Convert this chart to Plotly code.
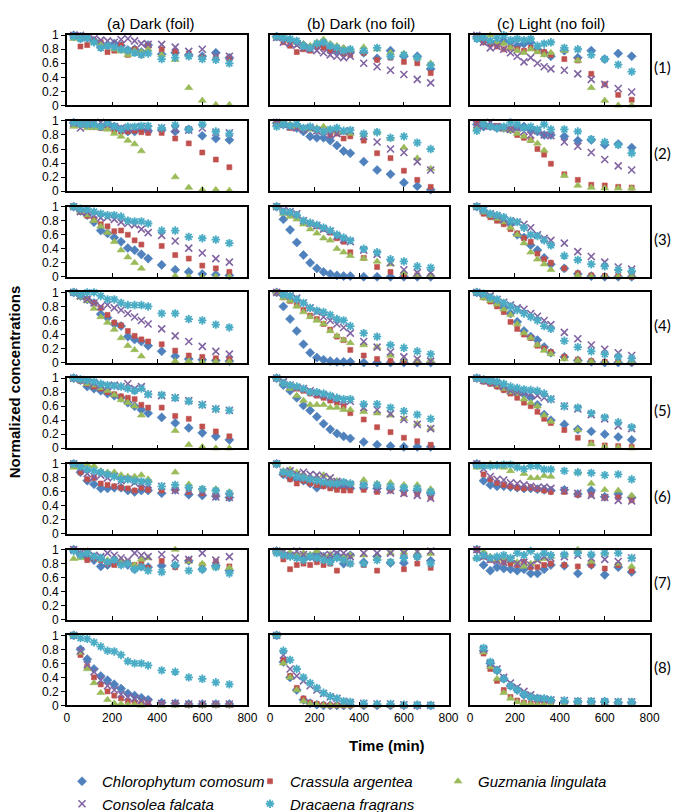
import plotly.graph_objects as go

# ---------------- data ----------------
T = [30, 60, 90, 120, 150, 180, 210, 240, 270, 300, 330, 360, 420, 480, 540, 600, 660, 720]

SPECIES = ["Chlorophytum comosum", "Crassula argentea", "Guzmania lingulata",
           "Consolea falcata", "Dracaena fragrans"]
COL_TITLES = ["(a) Dark (foil)", "(b) Dark (no foil)", "(c) Light (no foil)"]
ROW_LABELS = ["(1)", "(2)", "(3)", "(4)", "(5)", "(6)", "(7)", "(8)"]
X_TICKS = [0, 200, 400, 600, 800]
Y_TICKS = [0, 0.2, 0.4, 0.6, 0.8, 1]
Y_TICKTEXT = ["0", "0.2", "0.4", "0.6", "0.8", "1"]
X_TITLE = "Time (min)"
Y_TITLE = "Normalized concentrations"

# Row 1
chl_1a = [1.00,0.98,0.96,0.92, 0.83,0.86,0.88,0.85, 0.79,0.80,0.76,0.86, 0.73,0.75,0.72, 0.70,0.75,0.68]
cra_1a = [0.98,0.84,0.86,0.92, 0.90,0.76,0.78,0.86, 0.72,0.80,0.72,0.85, 0.80,0.77,0.74, 0.68,0.68,0.67]
guz_1a = [0.95,0.97,0.96,0.90, 0.88,0.85,0.80,0.77, 0.72,0.78,0.76,0.80, 0.72,0.65,0.25, 0.07,0.01,0.01]
con_1a = [1.00,1.00,0.97,0.95, 0.93,0.92,0.90,0.94, 0.95,0.92,0.88,0.87, 0.87,0.83,0.77, 0.80,0.70,0.70]
dra_1a = [0.98,0.95,0.96,0.90, 0.82,0.85,0.83,0.80, 0.78,0.75,0.72,0.74, 0.66,0.68,0.70, 0.66,0.65,0.60]

chl_1b = [0.98,0.95,0.92,0.90, 0.86,0.82,0.86,0.85, 0.80,0.78,0.80,0.76, 0.75,0.67,0.78, 0.70,0.70,0.52]
cra_1b = [0.97,0.90,0.85,0.76, 0.80,0.78,0.84,0.82, 0.78,0.80,0.74,0.72, 0.75,0.65,0.68, 0.62,0.60,0.46]
guz_1b = [0.98,0.96,0.93,0.90, 0.87,0.85,0.90,0.94, 0.88,0.85,0.82,0.80, 0.83,0.80,0.75, 0.74,0.68,0.60]
con_1b = [0.97,0.90,0.88,0.86, 0.82,0.80,0.78,0.75, 0.72,0.70,0.68,0.70, 0.60,0.55,0.50, 0.44,0.37,0.32]
dra_1b = [0.98,0.96,0.95,0.92, 0.85,0.82,0.88,0.90, 0.85,0.82,0.78,0.80, 0.78,0.82,0.70, 0.72,0.68,0.57]

chl_1c = [0.98,0.92,0.90,0.88, 0.92,0.90,0.85,0.88, 0.90,0.80,0.75,0.70, 0.78,0.68,0.78, 0.66,0.74,0.70]
cra_1c = [0.96,0.90,0.87,0.84, 0.80,0.82,0.80,0.78, 0.82,0.78,0.76,0.72, 0.66,0.64,0.45, 0.30,0.15,0.08]
guz_1c = [0.98,0.95,1.00,0.90, 0.88,0.82,0.78,0.75, 0.80,0.76,0.72,0.75, 0.78,0.64,0.25, 0.07,0.00,0.00]
con_1c = [1.00,0.90,0.82,0.84, 0.80,0.75,0.70,0.62, 0.68,0.60,0.55,0.52, 0.50,0.45,0.37, 0.30,0.24,0.19]
dra_1c = [0.95,0.97,0.92,0.96, 1.00,0.93,0.95,0.93, 0.95,0.85,0.88,0.90, 0.82,0.80,0.72, 0.66,0.58,0.48]

# Row 2
chl_2a = [0.97,0.96,0.95,0.94, 0.92,0.95,0.92,0.88, 0.85,0.85,0.88,0.86, 0.87,0.85,0.88, 0.79,0.75,0.73]
cra_2a = [0.98,0.97,0.95,0.92, 0.90,0.90,0.86,0.85, 0.85,0.86,0.84,0.83, 0.83,0.75,0.68, 0.55,0.45,0.34]
guz_2a = [0.92,0.93,0.90,0.90, 0.90,0.88,0.82,0.78, 0.72,0.67,0.57,None, None,0.20,0.05, 0.02,0.02,0.01]
con_2a = [0.97,0.90,0.95,0.97, 0.98,0.95,0.92,0.90, 0.88,0.90,0.92,0.88, 0.90,0.88,0.87, 0.90,0.84,0.83]
dra_2a = [0.98,0.96,0.95,0.95, 0.92,0.97,0.92,0.88, 0.92,0.92,0.93,0.93, 0.90,0.94,0.88, 0.95,0.85,0.82]

chl_2b = [0.97,0.95,0.93,0.90, 0.85,0.78,0.76,0.76, 0.72,0.65,0.57,0.54, 0.42,0.30,0.24, 0.12,0.07,0.02]
cra_2b = [0.97,0.95,0.90,0.92, 0.88,0.90,0.86,0.85, 0.80,0.82,0.75,0.78, 0.72,0.54,0.47, 0.29,0.16,0.06]
guz_2b = [0.96,0.97,0.95,0.92, 0.90,0.88,0.90,0.92, 0.88,0.85,0.84,0.82, 0.80,0.84,0.75, 0.62,0.47,0.32]
con_2b = [0.98,0.95,0.92,0.90, 0.88,0.90,0.86,0.85, 0.80,0.82,0.85,0.86, 0.78,0.70,0.60, 0.55,0.42,0.30]
dra_2b = [0.92,0.95,0.93,0.96, 0.90,0.92,0.88,0.85, 0.88,0.90,0.86,0.87, 0.82,0.84,0.76, 0.78,0.69,0.60]

chl_2c = [0.95,0.92,0.93,0.90, 0.90,0.88,0.90,0.92, 0.88,0.85,0.80,0.80, 0.78,0.72,0.73, 0.66,0.67,0.62]
cra_2c = [0.98,0.95,0.92,0.93, 0.90,0.88,0.80,0.76, 0.73,0.60,0.52,0.39, 0.24,0.16,0.09, 0.08,0.06,0.05]
guz_2c = [0.90,0.98,0.93,0.90, 0.88,0.86,0.82,0.78, 0.72,0.68,0.58,None, 0.22,0.08,0.05, 0.04,0.04,0.04]
con_2c = [0.95,0.93,0.98,0.92, 0.90,0.88,0.90,0.85, 0.80,0.86,0.80,0.79, 0.70,0.64,0.55, 0.45,0.36,0.30]
dra_2c = [0.86,0.95,0.92,0.90, 0.92,0.98,0.95,0.90, 0.92,0.88,0.95,0.88, 0.88,0.85,0.74, 0.70,0.66,0.54]

# Row 3
chl_3a = [1.00,0.94,0.88,0.78, 0.66,0.62,0.56,0.50, 0.41,0.38,0.32,0.26, 0.17,0.10,0.07, 0.04,0.03,0.02]
cra_3a = [1.00,0.93,0.87,0.82, 0.75,0.72,0.65,0.66, 0.60,0.52,0.46,None, 0.44,0.31,0.26, 0.16,0.12,0.07]
guz_3a = [1.00,0.93,0.88,0.80, 0.72,0.63,0.50,0.38, 0.28,0.20,0.12,None, None,0.01,0.00, 0.00,0.00,0.00]
con_3a = [1.00,0.93,0.92,0.88, 0.84,0.85,0.82,0.78, 0.76,0.74,0.68,0.63, 0.59,0.51,0.41, 0.34,0.26,0.21]
dra_3a = [1.00,0.97,0.96,0.93, 0.90,0.88,0.88,0.86, 0.80,0.79,0.79,0.76, 0.66,0.66,0.57, 0.55,0.53,0.48]

chl_3b = [1.00,0.82,0.67,0.49, 0.31,0.20,0.12,0.07, 0.04,0.02,0.01,0.01, 0.00,0.00,0.00, 0.00,0.00,0.00]
cra_3b = [1.00,0.93,0.90,0.86, 0.80,0.76,0.72,0.68, 0.63,0.55,0.50,0.35, 0.27,0.14,0.07, 0.03,0.02,0.01]
guz_3b = [1.00,0.90,0.86,0.82, 0.75,0.68,0.62,0.55, 0.52,0.40,0.35,0.30, 0.26,0.22,0.18, 0.06,0.03,0.02]
con_3b = [1.00,0.95,0.93,0.90, 0.80,0.76,0.73,0.68, 0.65,0.58,0.53,0.50, 0.38,0.32,0.20, 0.10,0.06,0.06]
dra_3b = [1.00,0.93,0.92,0.88, 0.80,0.77,0.74,0.70, 0.66,0.60,0.56,0.52, 0.40,0.35,0.25, 0.22,0.15,0.13]

chl_3c = [1.00,0.93,0.88,0.83, 0.78,0.75,0.60,0.56, 0.45,0.38,0.27,0.18, 0.12,0.04,0.01, 0.00,0.00,0.00]
cra_3c = [1.00,0.90,0.85,0.80, 0.75,0.68,0.62,0.55, 0.50,0.33,0.25,0.20, 0.12,0.05,0.02, 0.01,0.01,0.00]
guz_3c = [1.00,0.92,0.87,0.83, 0.78,0.70,0.60,0.48, 0.35,0.25,0.18,0.10, None,0.02,0.00, 0.00,0.00,0.00]
con_3c = [1.00,0.95,0.90,0.87, 0.82,0.80,0.78,0.75, 0.70,0.60,0.55,0.52, 0.48,0.36,0.29, 0.21,0.14,0.11]
dra_3c = [1.00,0.95,0.90,0.88, 0.85,0.80,0.78,0.70, 0.60,0.58,0.52,0.45, 0.30,0.24,0.18, 0.15,0.10,0.08]

# Row 4
chl_4a = [1.00,0.95,0.90,0.85, 0.69,0.64,0.55,0.52, 0.37,0.33,0.30,0.24, 0.16,0.09,0.05, 0.04,0.03,0.02]
cra_4a = [1.00,0.95,0.90,0.85, 0.78,0.68,0.57,0.53, 0.45,0.38,0.33,0.30, 0.26,0.17,0.10, 0.08,0.06,0.05]
guz_4a = [1.00,0.93,0.88,0.77, 0.65,0.57,0.47,0.35, 0.24,0.18,0.09,None, None,0.02,0.02, 0.01,0.01,0.01]
con_4a = [1.00,0.95,0.90,0.85, 0.80,0.82,0.78,0.75, 0.70,0.65,0.60,0.55, 0.48,0.38,0.30, 0.23,0.16,0.12]
dra_4a = [1.00,0.97,1.00,1.00, 0.95,0.90,0.90,0.85, 0.82,0.82,0.82,0.80, 0.70,0.70,0.62, 0.60,0.54,0.50]

chl_4b = [1.00,0.80,0.62,0.45, 0.26,0.14,0.07,0.04, 0.02,0.01,0.01,0.01, 0.00,0.00,0.00, 0.00,0.00,0.00]
cra_4b = [1.00,0.93,0.88,0.82, 0.75,0.67,0.62,0.55, 0.47,0.37,0.32,0.18, 0.10,0.05,0.02, 0.01,0.01,0.01]
guz_4b = [1.00,0.92,0.88,0.80, 0.72,0.65,0.60,0.55, 0.45,0.38,0.32,0.28, 0.25,0.22,0.10, 0.05,0.03,0.03]
con_4b = [1.00,0.98,0.95,0.92, 0.85,0.78,0.72,0.65, 0.60,0.55,0.50,0.42, 0.30,0.22,0.15, 0.08,0.05,0.02]
dra_4b = [1.02,0.97,0.95,0.90, 0.85,0.78,0.74,0.72, 0.68,0.62,0.60,0.52, 0.42,0.37,0.25, 0.21,0.16,0.12]

chl_4c = [1.00,0.95,0.90,0.85, 0.78,0.70,0.58,0.45, 0.37,0.32,0.22,0.14, 0.08,0.03,0.01, 0.00,0.00,0.00]
cra_4c = [1.00,0.93,0.87,0.80, 0.72,0.58,0.48,0.40, 0.35,0.24,0.20,0.15, 0.08,0.04,0.02, 0.01,0.01,0.00]
guz_4c = [1.00,0.92,0.88,0.83, 0.76,0.68,0.55,0.42, 0.35,0.25,0.17,0.12, 0.05,0.03,0.01, 0.00,0.00,0.00]
con_4c = [1.00,0.97,0.95,0.90, 0.86,0.82,0.78,0.76, 0.70,0.66,0.60,0.54, 0.43,0.34,0.25, 0.19,0.14,0.10]
dra_4c = [1.00,0.98,0.93,0.90, 0.85,0.80,0.75,0.70, 0.65,0.60,0.52,0.48, 0.31,0.22,0.16, 0.12,0.08,0.06]

# Row 5
chl_5a = [1.00,0.97,0.88,0.85, 0.82,0.78,0.75,0.72, 0.65,0.60,0.55,0.50, 0.44,0.36,0.29, 0.22,0.17,0.12]
cra_5a = [1.00,0.96,0.92,0.88, 0.85,0.80,0.77,0.74, 0.72,0.70,0.62,0.58, 0.58,0.46,0.42, 0.31,0.24,0.17]
guz_5a = [1.00,0.97,0.92,0.90, 0.86,0.82,0.76,0.69, 0.65,0.60,0.47,None, None,0.25,0.05, 0.02,0.00,0.00]
con_5a = [1.00,0.98,0.96,0.93, 0.90,0.88,0.90,0.88, 0.92,0.85,0.88,0.77, 0.75,0.72,0.68, 0.62,0.56,0.54]
dra_5a = [1.00,0.98,0.97,0.95, 0.92,0.90,0.89,0.88, 0.85,0.82,0.85,0.77, 0.76,0.72,0.67, 0.62,0.56,0.54]

chl_5b = [1.00,0.90,0.82,0.72, 0.61,0.54,0.45,0.35, 0.27,0.21,0.17,0.14, 0.09,0.05,0.03, 0.02,0.02,0.02]
cra_5b = [1.00,0.93,0.88,0.85, 0.82,0.78,0.75,0.72, 0.68,0.65,0.60,0.50, 0.41,0.30,0.23, 0.15,0.10,0.05]
guz_5b = [1.00,0.92,0.85,0.75, 0.68,0.62,0.62,0.62, 0.58,0.58,0.55,0.55, 0.52,0.50,0.47, 0.42,0.35,0.28]
con_5b = [1.00,0.95,0.90,0.87, 0.85,0.82,0.78,0.76, 0.73,0.70,0.67,0.67, 0.58,0.55,0.49, 0.41,0.34,0.28]
dra_5b = [1.00,0.93,0.90,0.88, 0.85,0.80,0.80,0.78, 0.75,0.72,0.70,0.70, 0.63,0.63,0.58, 0.53,0.48,0.42]

chl_5c = [1.00,0.97,0.94,0.90, 0.85,0.82,0.80,0.77, 0.72,0.62,0.48,0.40, 0.34,0.27,0.24, 0.20,0.16,0.12]
cra_5c = [1.00,0.95,0.92,0.88, 0.83,0.78,0.72,0.65, 0.60,0.52,0.42,0.36, 0.26,0.15,0.08, 0.04,0.03,0.02]
guz_5c = [1.00,0.97,0.94,0.90, 0.85,0.80,0.78,0.70, 0.65,0.60,0.47,0.38, None,0.26,0.06, 0.02,0.01,0.00]
con_5c = [1.00,0.97,0.95,0.92, 0.88,0.82,0.80,0.80, 0.78,0.75,0.72,0.70, 0.60,0.56,0.48, 0.42,0.32,0.28]
dra_5c = [1.00,0.98,0.96,0.95, 0.92,0.88,0.86,0.84, 0.83,0.82,0.78,0.70, 0.60,0.58,0.50, 0.44,0.37,0.30]

# Row 6
chl_6a = [1.00,0.88,0.76,0.71, 0.65,0.65,0.66,0.66, 0.62,0.60,0.62,0.62, 0.58,0.63,0.56, 0.55,0.54,0.52]
cra_6a = [1.00,0.88,0.78,0.80, 0.72,0.70,0.68,0.66, 0.65,0.62,0.66,0.63, 0.62,0.63,0.60, 0.58,0.56,0.53]
guz_6a = [0.95,0.97,0.99,0.97, 0.90,0.88,0.88,0.84, 0.82,0.82,0.84,0.78, None,0.88,0.71, 0.65,0.64,0.60]
con_6a = [1.00,0.93,0.86,0.82, 0.84,0.80,0.82,0.76, 0.78,0.73,0.72,0.70, 0.68,0.62,0.62, 0.60,0.53,0.52]
dra_6a = [1.00,0.96,0.92,0.90, 0.88,0.85,0.82,0.78, 0.78,0.76,0.75,0.74, 0.68,0.70,0.66, 0.64,0.62,0.58]

chl_6b = [1.00,0.85,0.80,0.78, 0.76,0.72,0.66,0.70, 0.68,0.66,0.67,0.65, 0.66,0.65,0.64, 0.62,0.62,0.58]
cra_6b = [1.00,0.85,0.78,0.72, 0.76,0.72,0.70,0.68, 0.65,0.63,0.62,0.62, 0.63,0.60,0.62, 0.58,0.57,0.52]
guz_6b = [1.00,0.90,0.92,0.88, 0.85,0.80,0.80,0.84, 0.78,0.76,0.74,0.72, 0.77,0.72,0.73, 0.70,0.70,0.64]
con_6b = [1.00,0.88,0.90,0.85, 0.88,0.85,0.84,0.82, 0.80,0.75,0.72,0.70, 0.68,0.64,0.62, 0.58,0.55,0.51]
dra_6b = [1.00,0.88,0.86,0.82, 0.80,0.78,0.76,0.74, 0.72,0.72,0.74,0.72, 0.70,0.70,0.68, 0.66,0.65,0.60]

chl_6c = [1.00,0.76,0.70,0.68, 0.68,0.67,0.66,0.65, 0.65,0.64,0.63,0.62, 0.63,0.57,0.62, 0.53,0.57,0.52]
cra_6c = [1.00,0.85,0.78,0.73, 0.70,0.68,0.66,0.65, 0.66,0.64,0.62,0.60, 0.60,0.56,0.56, 0.52,0.52,0.48]
guz_6c = [0.95,0.97,1.00,0.97, 0.95,0.90,0.96,0.86, 0.80,0.80,0.83,0.82, None,0.88,0.72, 0.63,0.62,0.55]
con_6c = [1.00,0.93,0.82,0.78, 0.77,0.73,0.72,0.70, 0.68,0.66,0.67,0.65, 0.62,0.58,0.55, 0.52,0.48,0.47]
dra_6c = [0.98,0.97,0.97,0.98, 0.99,0.99,0.95,0.93, 0.97,0.97,0.92,0.92, 0.90,0.88,0.87, 0.84,0.85,0.78]

# Row 7
chl_7a = [1.00,0.93,0.88,0.85, 0.76,0.78,0.82,0.80, 0.78,0.72,0.76,0.75, 0.77,0.77,0.84, 0.72,0.77,0.70]
cra_7a = [1.00,0.92,0.85,0.88, 0.85,0.80,0.78,0.82, 0.82,0.78,0.80,0.74, 0.84,0.75,0.85, 0.78,0.83,0.76]
guz_7a = [0.87,0.88,0.98,0.90, 0.86,0.85,0.87,0.85, 0.80,0.78,0.86,0.88, None,1.00,0.83, 0.80,0.75,0.74]
con_7a = [1.00,0.95,0.95,0.92, 0.90,0.95,0.92,0.88, 0.85,0.95,0.92,0.90, 0.93,0.88,0.86, 0.95,0.85,0.90]
dra_7a = [0.98,0.92,0.95,0.90, 0.88,0.82,0.85,0.78, 0.80,0.72,0.75,0.70, 0.68,0.78,0.70, 0.72,0.75,0.66]

chl_7b = [0.98,0.93,0.92,0.90, 0.88,0.90,0.95,0.90, 0.85,0.92,0.80,0.92, 0.82,0.90,0.81, 0.81,0.90,0.84]
cra_7b = [0.98,0.86,0.72,0.78, 0.80,0.78,0.82,0.78, 0.80,0.70,0.85,0.80, 0.78,0.70,0.82, 0.72,0.80,0.74]
guz_7b = [0.98,0.95,0.96,0.92, 0.95,0.93,0.98,0.90, 0.93,0.88,0.90,0.92, 0.92,0.88,0.95, 0.96,0.95,0.94]
con_7b = [0.98,0.97,0.92,0.98, 0.93,0.90,0.88,0.92, 0.93,0.95,0.95,0.90, 0.95,0.95,0.95, 0.95,0.97,0.98]
dra_7b = [0.95,0.92,0.90,0.88, 0.85,0.90,0.88,0.85, 0.82,0.88,0.85,0.80, 0.80,0.85,0.82, 0.88,0.90,0.80]

chl_7c = [1.00,0.78,0.70,0.75, 0.73,0.72,0.70,0.72, 0.66,0.66,0.72,0.78, 0.77,0.66,0.78, 0.64,0.75,0.68]
cra_7c = [1.00,0.90,0.85,0.85, 0.82,0.80,0.78,0.83, 0.75,0.75,0.78,0.80, 0.78,0.76,0.78, 0.73,0.78,0.70]
guz_7c = [0.88,0.97,0.90,0.85, 0.88,0.85,0.82,0.76, 0.80,0.85,0.87,0.90, 0.92,1.00,0.83, 0.95,0.80,0.76]
con_7c = [1.00,0.90,0.86,0.84, 0.82,0.86,0.80,0.82, 0.78,0.85,0.90,0.88, 0.90,0.92,0.88, 0.86,0.83,0.88]
dra_7c = [0.88,0.92,0.88,0.90, 0.92,0.88,0.95,0.92, 0.98,0.90,0.95,0.92, 0.93,0.95,0.93, 0.95,0.95,0.88]

# Row 8
chl_8a = [1.00,0.80,0.66,0.52, 0.42,0.36,0.30,0.24, 0.17,0.14,0.11,0.08, 0.04,0.03,0.02, 0.02,0.02,0.02]
cra_8a = [1.00,0.72,0.55,0.40, 0.30,0.20,0.14,0.10, 0.06,0.04,0.03,0.02, 0.02,0.02,0.01, 0.01,0.01,0.01]
guz_8a = [1.00,0.75,0.52,0.32, 0.18,0.08,0.03,0.02, 0.01,0.01,0.00,None, 0.00,0.00,0.00, 0.00,0.00,0.00]
con_8a = [1.00,0.78,0.58,0.48, 0.36,0.28,0.22,0.16, 0.12,0.10,0.07,0.05, 0.03,0.03,0.02, 0.02,0.02,0.02]
dra_8a = [1.00,0.96,0.95,0.90, 0.84,0.78,0.77,0.72, 0.63,0.60,0.60,0.57, 0.50,0.48,0.40, 0.38,0.33,0.30]

chl_8b = [1.00,0.62,0.40,0.22, 0.08,0.03,0.01,0.00, 0.00,0.00,0.00,0.00, 0.00,0.00,0.00, 0.00,0.00,0.00]
cra_8b = [1.00,0.65,0.42,0.25, 0.10,0.04,0.02,0.01, 0.00,0.00,0.00,0.00, 0.00,0.00,0.00, 0.00,0.00,0.00]
guz_8b = [1.00,0.60,0.40,0.22, 0.06,0.02,0.01,0.00, 0.00,0.00,0.00,0.00, 0.00,0.00,0.00, 0.00,0.00,0.00]
con_8b = [1.00,0.72,0.52,0.42, 0.35,0.28,0.22,0.17, 0.12,0.10,0.06,0.04, 0.03,0.02,0.02, 0.01,0.00,0.00]
dra_8b = [1.00,0.78,0.65,0.52, 0.40,0.32,0.25,0.18, 0.13,0.10,0.06,0.05, 0.03,0.02,0.02, 0.01,0.01,0.00]

chl_8c = [1.05,0.78,0.60,0.50, 0.38,0.28,0.22,0.15, 0.12,0.10,0.08,0.07, 0.05,0.05,0.05, 0.05,0.04,0.04]
cra_8c = [1.05,0.74,0.52,0.35, 0.22,0.12,0.07,0.04, 0.03,0.02,0.02,0.02, 0.02,0.02,0.02, 0.02,0.02,0.02]
guz_8c = [1.05,0.76,0.55,0.38, 0.18,0.10,0.05,0.03, 0.02,0.01,0.01,0.01, 0.01,0.01,0.01, 0.01,0.01,0.01]
con_8c = [1.05,0.80,0.60,0.52, 0.40,0.32,0.26,0.20, 0.15,0.10,0.09,0.08, 0.07,0.06,0.06, 0.05,0.05,0.05]
dra_8c = [1.05,0.82,0.62,0.50, 0.38,0.28,0.22,0.16, 0.12,0.10,0.10,0.08, 0.07,0.06,0.06, 0.06,0.05,0.05]

g = globals()
PANELS = [[[g[f"{sp}_{r}{c}"] for sp in ("chl", "cra", "guz", "con", "dra")]
           for c in "abc"] for r in range(1, 9)]
for row in PANELS:
    for panel in row:
        for s in panel:
            assert len(s) == len(T)

# ---------------- styling ----------------
W, H = 684, 812
COLORS = ["#4F81BD", "#C0504D", "#9BBB59", "#8064A2", "#4BACC6"]
SYMBOLS = ["diamond", "square", "triangle-up", "x-thin-open", "asterisk-open"]
SIZES = [7, 5, 7, 7, 7]
LINEW = [0.6, 0.6, 0.6, 1.6, 1.8]

COL_X = [(57, 241), (264, 446), (468, 651)]
ROW_TOP0, ROW_PITCH, ROW_H = 21, 88.9, 72.7
TICK_FONT = dict(family="Liberation Sans Narrow, Liberation Sans, Arial", size=12, color="black")

fig = go.Figure()
layout = {}
for r in range(8):
    top = ROW_TOP0 + ROW_PITCH * r
    bot = top + ROW_H
    for c in range(3):
        k = r * 3 + c + 1
        xs = "" if k == 1 else str(k)
        x0, x1 = COL_X[c]
        layout["xaxis" + xs] = dict(
            domain=[x0 / W, x1 / W], range=[0, 800], anchor="y" + xs,
            tickvals=X_TICKS, showticklabels=(r == 7), ticks="inside", ticklen=4,
            tickcolor="black", tickwidth=1, showline=True, linecolor="black",
            linewidth=1.5, mirror=True, showgrid=False, zeroline=False,
            tickfont=TICK_FONT, fixedrange=True)
        layout["yaxis" + xs] = dict(
            domain=[1 - bot / H, 1 - top / H], range=[0, 1], anchor="x" + xs,
            tickvals=Y_TICKS, ticktext=Y_TICKTEXT, showticklabels=(c == 0),
            ticks="outside" if c == 0 else "", ticklen=4, tickcolor="black",
            showline=True, linecolor="black", linewidth=1.5, mirror=True,
            showgrid=False, zeroline=False, tickfont=TICK_FONT, fixedrange=True)
        for s in range(5):
            fig.add_trace(go.Scatter(
                x=T, y=PANELS[r][c][s], mode="markers", name=SPECIES[s],
                legendgroup=SPECIES[s], showlegend=(k == 1), cliponaxis=False,
                xaxis="x" + xs, yaxis="y" + xs,
                marker=dict(symbol=SYMBOLS[s], size=SIZES[s], color=COLORS[s],
                            line=dict(width=LINEW[s], color=COLORS[s]))))

annotations = []
title_x = [143, 357, 550]
for c in range(3):
    annotations.append(dict(text=COL_TITLES[c], x=title_x[c] / W, y=1 - 9 / H,
                            xref="paper", yref="paper", showarrow=False,
                            xanchor="center", yanchor="middle",
                            font=dict(family="Liberation Sans, Arial", size=15, color="black")))
for r in range(8):
    yc = ROW_TOP0 + ROW_PITCH * r + ROW_H / 2 - 3
    annotations.append(dict(text=ROW_LABELS[r], x=664 / W, y=1 - yc / H,
                            xref="paper", yref="paper", showarrow=False,
                            xanchor="center", yanchor="middle",
                            font=dict(family="Lato, Liberation Sans", size=15, color="black")))
annotations.append(dict(text="<b>" + X_TITLE + "</b>", x=383 / W, y=1 - 758 / H,
                        xref="paper", yref="paper", showarrow=False,
                        xanchor="center", yanchor="middle",
                        font=dict(family="Liberation Sans, Arial", size=15, color="black")))
annotations.append(dict(text="<b>" + Y_TITLE + "</b>", x=11 / W, y=1 - 380 / H,
                        xref="paper", yref="paper", showarrow=False, textangle=-90,
                        xanchor="center", yanchor="middle", xshift=-7,
                        font=dict(family="Liberation Sans, Arial", size=15, color="black")))

fig.update_layout(
    **layout,
    width=W, height=H, autosize=False,
    margin=dict(l=0, r=0, t=0, b=0),
    paper_bgcolor="white", plot_bgcolor="white",
    annotations=annotations,
    showlegend=True,
    legend=dict(orientation="h", x=52 / W, y=1 - 778 / H, xanchor="left", yanchor="top",
                entrywidth=143, entrywidthmode="pixels", traceorder="normal",
                font=dict(family="Liberation Sans, Arial", size=15, color="black", style="italic"),
                bgcolor="rgba(0,0,0,0)", borderwidth=0),
)

fig.write_html("out.html")
